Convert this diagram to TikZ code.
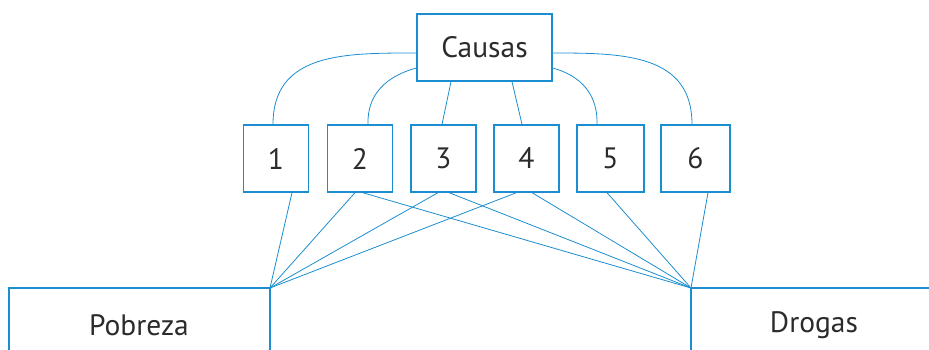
\documentclass[tikz,border=0pt]{standalone}
\usepackage{fontspec}
\setmainfont{PT Sans}
\definecolor{lineblue}{HTML}{1C8DD0}
\definecolor{txt}{HTML}{2B2B2B}
\begin{document}
\begin{tikzpicture}[x=1pt,y=-1pt,
  box/.style={draw=lineblue,line width=1.3pt,rectangle,minimum height=67pt,inner sep=0pt,text=txt,font=\fontsize{29.5}{32}\selectfont},
  numbox/.style={box,minimum width=65pt},
  link/.style={draw=lineblue,line width=0.8pt},
  label/.style={text=txt,font=\fontsize{29.5}{32}\selectfont,inner sep=0pt}]
\useasboundingbox (0,0) rectangle (929,350);
\node[box,minimum width=135pt] (c) at (484.5,47.5) {Causas};
\node[numbox] (b1) at (276,158.5) {1};
\node[numbox] (b2) at (360,158.5) {2};
\node[numbox] (b3) at (443.5,158.5) {3};
\node[numbox] (b4) at (526.5,158.5) {4};
\node[numbox,minimum width=67pt] (b5) at (610.5,158.5) {5};
\node[numbox,minimum width=69pt] (b6) at (695.5,158.5) {6};
% bottom open boxes
\coordinate (pc) at (270,288);
\coordinate (dc) at (691,288);
\draw[draw=lineblue,line width=1.3pt] (9,351) -- (9,288) -- (pc) -- (270,351);
\draw[draw=lineblue,line width=1.3pt] (930,288) -- (dc) -- (691,351);
\node[label] (pob) at (139,325) {Pobreza};
\node[label] (dro) at (814,325) {Drogas};
% curves from Causas
\draw[link] ([yshift=-5.5pt]c.west) to[out=180,in=90,looseness=1.15] ([xshift=-3pt]b1.north);
\draw[link] ([yshift=-20.5pt]c.west) to[out=195,in=92,looseness=1.05] ([xshift=8pt]b2.north);
\draw[link] ([xshift=-33.5pt]c.south) -- ([xshift=-1.5pt]b3.north);
\draw[link] ([xshift=27.5pt]c.south) -- ([xshift=-4.5pt]b4.north);
\draw[link] ([yshift=-20.5pt]c.east) to[out=-15,in=88,looseness=1.05] ([xshift=-13.5pt]b5.north);
\draw[link] ([yshift=-5.5pt]c.east) to[out=0,in=90,looseness=1.15] ([xshift=-3.5pt]b6.north);
% lines to Pobreza / Drogas
\draw[link] ([xshift=16pt]b1.south) -- (pc);
\draw[link] ([xshift=-5pt]b2.south) -- (pc);
\draw[link] ([xshift=2.6pt]b2.south) -- (dc);
\draw[link] ([xshift=-5.5pt]b3.south) -- (pc);
\draw[link] ([xshift=5.5pt]b3.south) -- (dc);
\draw[link] ([xshift=-10pt]b4.south) -- (pc);
\draw[link] ([xshift=5.5pt]b4.south) -- (dc);
\draw[link] ([xshift=-3.5pt]b5.south) -- (dc);
\draw[link] ([xshift=12.5pt]b6.south) -- (dc);
\end{tikzpicture}
\end{document}
